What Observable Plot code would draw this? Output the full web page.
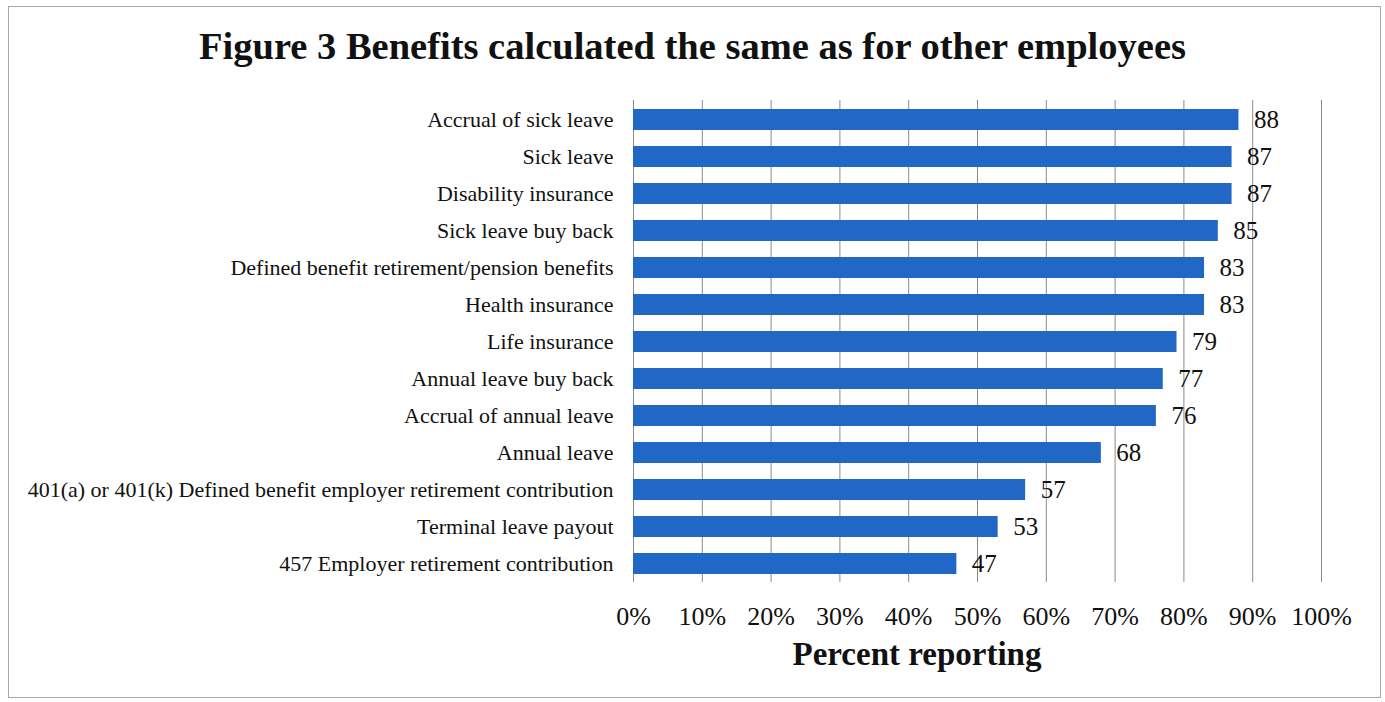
<!DOCTYPE html>
<html>
<head>
<meta charset="utf-8">
<script src="https://cdn.jsdelivr.net/npm/d3@7"></script>
<script src="https://cdn.jsdelivr.net/npm/@observablehq/plot@0.6"></script>
<style>
  html, body { margin: 0; padding: 0; background: #fff; }
  #page { position: relative; width: 1385px; height: 702px; overflow: hidden; font-family: "Liberation Serif", "DejaVu Serif", serif; }
  #frame { position: absolute; left: 8px; top: 6px; width: 1373px; height: 692px; border: 1px solid #a8a8a8; box-sizing: border-box; pointer-events: none; }
  #title { position: absolute; left: 0; top: 24px; width: 1385px; text-align: center; font-weight: bold; font-size: 38.5px; color: #111; }
  #chart { position: absolute; left: 0; top: 90px; }
  #xlabel { position: absolute; left: 667px; width: 500px; top: 636px; text-align: center; font-weight: bold; font-size: 33px; color: #111; }
</style>
</head>
<body>
<div id="page">
  <div id="frame"></div>
  <div id="title">Figure 3 Benefits calculated the same as for other employees</div>
  <div id="chart"></div>
  <div id="xlabel">Percent reporting</div>
</div>
<script>
const categories = [
  "Accrual of sick leave",
  "Sick leave",
  "Disability insurance",
  "Sick leave buy back",
  "Defined benefit retirement/pension benefits",
  "Health insurance",
  "Life insurance",
  "Annual leave buy back",
  "Accrual of annual leave",
  "Annual leave",
  "401(a) or 401(k) Defined benefit employer retirement contribution",
  "Terminal leave payout",
  "457 Employer retirement contribution"
];
const values = [88, 87, 87, 85, 83, 83, 79, 77, 76, 68, 57, 53, 47];
const xTicks = [0, 10, 20, 30, 40, 50, 60, 70, 80, 90, 100];

const data = categories.map((c, i) => ({category: c, value: values[i]}));

const chart = Plot.plot({
  width: 1385,
  height: 550,
  marginLeft: 633,
  marginRight: 64,
  marginTop: 10,
  marginBottom: 58,
  style: { fontFamily: "Liberation Serif, DejaVu Serif, serif", background: "transparent", color: "#111" },
  x: { domain: [0, 100], ticks: xTicks },
  y: { domain: categories, paddingInner: 0.44, paddingOuter: 0.22 },
  marks: [
    Plot.ruleX(xTicks, { stroke: "#8a8a8a", strokeWidth: 1 }),
    Plot.barX(data, { x: "value", y: "category", fill: "#2167c5" }),
    Plot.text(data, { x: "value", y: "category", text: d => String(d.value), textAnchor: "start", dx: 15, fontSize: 25, fill: "#111" }),
    Plot.axisY({ tickSize: 0, tickPadding: 20, fontSize: 22, label: null }),
    Plot.axisX(xTicks, { tickSize: 0, tickPadding: 24, fontSize: 26, tickFormat: d => d + "%", label: null })
  ]
});
document.getElementById("chart").appendChild(chart);
</script>
</body>
</html>
